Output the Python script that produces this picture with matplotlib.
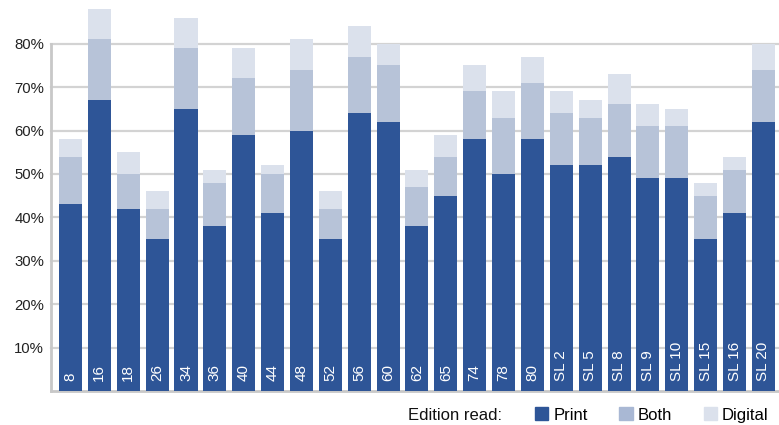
import matplotlib
matplotlib.use("Agg")
import matplotlib.pyplot as plt
import matplotlib.patches as mpatches
import numpy as np

plt.rcParams["font.family"] = ["Liberation Sans", "DejaVu Sans"]

issues = ["8", "16", "18", "26", "34", "36", "40", "44", "48", "52", "56", "60", "62",
          "65", "74", "78", "80", "SL 2", "SL 5", "SL 8", "SL 9", "SL 10", "SL 15",
          "SL 16", "SL 20"]
print_pct = [43, 67, 42, 35, 65, 38, 59, 41, 60, 35, 64, 62, 38,
             45, 58, 50, 58, 52, 52, 54, 49, 49, 35, 41, 62]
both_pct = [11, 14, 8, 7, 14, 10, 13, 9, 14, 7, 13, 13, 9,
            9, 11, 13, 13, 12, 11, 12, 12, 12, 10, 10, 12]
digital_pct = [4, 7, 5, 4, 7, 3, 7, 2, 7, 4, 7, 5, 4,
               5, 6, 6, 6, 5, 4, 7, 5, 4, 3, 3, 6]
y_ticks = [10, 20, 30, 40, 50, 60, 70, 80]

c_print = "#2E5597"
c_both = "#B7C3D8"
c_digital = "#DBE1EC"
c_grid = "#D3D3D3"

W, H = 779, 425
fig = plt.figure(figsize=(W / 100, H / 100), dpi=100)
ax = fig.add_axes([51 / W, (H - 391) / H, (W - 51) / W, (391 - 43.7) / H])

x = np.arange(len(issues))
p = np.array(print_pct)
b = np.array(both_pct)
d = np.array(digital_pct)

for yv in y_ticks:
    ax.axhline(yv, color=c_grid, lw=1.6, zorder=1, clip_on=False)

ax.bar(x, p, 0.8, color=c_print, zorder=3, clip_on=False)
ax.bar(x, b, 0.8, bottom=p, color=c_both, zorder=3, clip_on=False)
ax.bar(x, d, 0.8, bottom=p + b, color=c_digital, zorder=3, clip_on=False)

# issue labels sit inside the bars, rotated
for i, lab in enumerate(issues):
    ax.text(i, 2.4, lab, rotation=90, ha="center", va="bottom",
            color="white", fontsize=11, zorder=4)

ax.set_xlim(-0.675, 24.54)
ax.set_ylim(0, 80)
ax.set_xticks([])
ax.set_yticks(y_ticks)
ax.set_yticklabels([f"{v}%" for v in y_ticks], fontsize=10.7, color="#222222")
ax.tick_params(axis="y", length=0, pad=5)

for s in ["top", "right"]:
    ax.spines[s].set_visible(False)
for s in ["left", "bottom"]:
    ax.spines[s].set_color("#C8C8C8")
    ax.spines[s].set_linewidth(2)
    ax.spines[s].set_zorder(2)

fig.text(408 / W, 1 - 415 / H, "Edition read:", fontsize=12, va="center",
         ha="left", color="#111111")
handles = [mpatches.Patch(color=c_print, label="Print"),
           mpatches.Patch(color="#A9B8D4", label="Both"),
           mpatches.Patch(color=c_digital, label="Digital")]
fig.legend(handles=handles, ncol=3, loc="center left",
           bbox_to_anchor=(535 / W, 1 - 415 / H), frameon=False,
           fontsize=12, handlelength=0.8, handleheight=0.8,
           handletextpad=0.3, columnspacing=1.9, borderpad=0,
           borderaxespad=0)

fig.savefig("out.png", dpi=100)
